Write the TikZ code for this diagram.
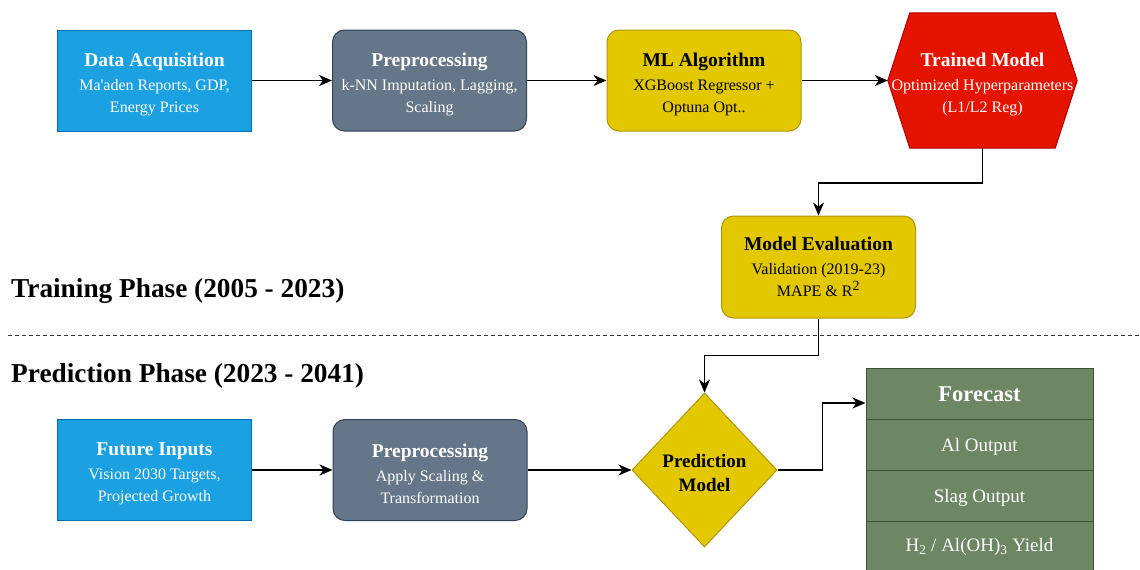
\documentclass[tikz,border=0pt]{standalone}
\usepackage{fontspec}
\setmainfont{Liberation Serif}
\usetikzlibrary{shapes.geometric,arrows.meta,backgrounds}
\definecolor{blueF}{HTML}{1BA1E2}\definecolor{blueD}{HTML}{006EAF}
\definecolor{grayF}{HTML}{647687}\definecolor{grayD}{HTML}{314354}
\definecolor{yelF}{HTML}{E3C800}\definecolor{yelD}{HTML}{B09500}
\definecolor{redF}{HTML}{E51400}\definecolor{redD}{HTML}{B20000}
\definecolor{grnF}{HTML}{6D8764}\definecolor{grnD}{HTML}{3A5431}
\newcommand{\boxtitle}[1]{{\bfseries\fontsize{19.5}{23}\selectfont\rule{0pt}{21pt}#1}}
\newcommand{\boxtitleplain}[1]{{\bfseries\fontsize{19.5}{23}\selectfont #1}}
\begin{document}
\begin{tikzpicture}[x=1pt,y=-1pt,
  box/.style={minimum width=194pt, minimum height=101pt, inner sep=0pt, align=center, line width=1pt, font=\fontsize{16}{22}\selectfont},
  bluebox/.style={box, fill=blueF, draw=blueD, text=white},
  graybox/.style={box, fill=grayF, draw=grayD, text=white, rounded corners=12pt},
  yellowbox/.style={box, fill=yelF, draw=yelD, text=black, rounded corners=12pt},
  conn/.style={line width=1.5pt, -{Stealth[length=13pt,width=11pt,inset=4pt]}},
  phase/.style={anchor=west, inner sep=0pt, font=\bfseries\fontsize{27.3}{30}\selectfont},
  row/.style={minimum width=227pt, inner sep=0pt, fill=grnF, draw=grnD, line width=1pt, text=white, font=\fontsize{19}{22}\selectfont}
]
\useasboundingbox (0,0) rectangle (1140,570);

% training phase
\node[bluebox] (da) at (154.5,80.5) {\boxtitle{Data Acquisition}\\[2pt]Ma\textquotesingle aden Reports, GDP,\\Energy Prices};
\node[graybox] (p1) at (429.5,80.5) {\boxtitle{Preprocessing}\\[2pt]k-NN Imputation, Lagging,\\Scaling};
\node[yellowbox] (ml) at (704,80.5) {\boxtitle{ML Algorithm}\\[2pt]XGBoost Regressor +\\Optuna Opt..};
\node[minimum width=189pt, minimum height=135pt, inner sep=0pt, align=center, text=white, font=\fontsize{16}{22}\selectfont] (tm) at (982.5,80.5) {\boxtitle{Trained Model}\\[2pt]Optimized Hyperparameters\\(L1/L2 Reg)};
\begin{scope}[on background layer]
\filldraw[fill=redF, draw=redD, line width=1pt] (tm.west) -- ([xshift=22pt]tm.north west) -- ([xshift=-22pt]tm.north east) -- (tm.east) -- ([xshift=-22pt]tm.south east) -- ([xshift=22pt]tm.south west) -- cycle;
\end{scope}
\node[yellowbox, minimum height=102pt] (ev) at (818.5,267) {\boxtitleplain{Model Evaluation}\\[2pt]Validation (2019-23)\\MAPE \& R\textsuperscript{\fontsize{14}{14}\selectfont 2}};

\node[phase] (tp) at (11,291) {Training Phase (2005 - 2023)};
\draw[dashed, dash pattern=on 4pt off 3pt, line width=1pt, draw=black!80] (8,335) -- (1140,335);
\node[phase] (pp) at (11,376) {Prediction Phase (2023 - 2041)};

% prediction phase
\node[bluebox] (fi) at (154.5,470) {\boxtitle{Future Inputs}\\[2pt]Vision 2030 Targets,\\Projected Growth};
\node[graybox] (p2) at (430,470) {\boxtitle{Preprocessing}\\[2pt]Apply Scaling \&\\Transformation};
\node[diamond, minimum width=145pt, minimum height=154pt, inner sep=0pt, fill=yelF, draw=yelD, line width=1pt, align=center, font=\bfseries\fontsize{19}{24}\selectfont] (pm) at (704.5,470) {\rule{0pt}{19pt}Prediction\\Model};

\node[row, minimum height=52pt, font=\bfseries\fontsize{22.5}{24}\selectfont] (fc) at (979.5,394) {Forecast};
\node[row, minimum height=51pt] (r1) at (979.5,445) {\rule{0pt}{17pt}Al Output};
\node[row, minimum height=51pt] (r2) at (979.5,496) {\rule{0pt}{17pt}Slag Output};
\node[row, minimum height=51pt] (r3) at (979.5,547) {H\textsubscript{2} / Al(OH)\textsubscript{3} Yield};

% connectors
\draw[conn] (da.east) -- (p1.west);
\draw[conn] (p1.east) -- (ml.west);
\draw[conn] (ml.east) -- (tm.west);
\draw[conn] (tm.south) -- ++(0,35) -| (ev.north);
\draw[conn] (ev.south) -- ++(0,37) -| (pm.north);
\draw[conn] (fi.east) -- (p2.west);
\draw[conn] (p2.east) -- (pm.west);
\draw[conn] (pm.east) -- ++(45,0) |- ([yshift=-9pt]fc.west);
\end{tikzpicture}
\end{document}
